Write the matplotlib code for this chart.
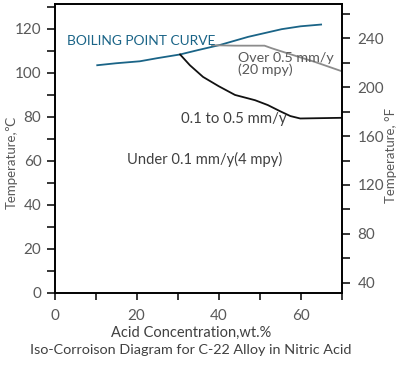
import matplotlib
matplotlib.use("Agg")
import matplotlib.pyplot as plt

plt.rcParams['font.family'] = ['Lato', 'DejaVu Sans']

# Data
boil_x = [10.4, 15, 20.8, 25, 30.6, 35, 40.3, 47.2, 55.4, 60, 65]
boil_y = [103.3, 104.2, 105.1, 106.5, 108.2, 110.2, 112.5, 116.2, 119.7, 121.0, 121.8]

over_x = [38.4, 44, 51.2, 53, 57, 63.5, 70]
over_y = [112.4, 112.2, 112.2, 111.0, 108.6, 104.8, 100.6]

mid_x = [30.6, 33, 36.2, 40, 44, 48.9, 52, 55, 57.5, 59.9, 70]
mid_y = [108.2, 103.3, 98.0, 93.8, 89.8, 87.4, 85.2, 82.4, 80.2, 79.1, 79.4]

x_ticks = [0, 20, 40, 60]
c_ticks = [0, 20, 40, 60, 80, 100, 120]
f_ticks = [40, 80, 120, 160, 200, 240]

annotations = [
    ("BOILING POINT CURVE", 3.0, 114.4, '#1a6487', 9.9),
    ("Over 0.5 mm/y\n(20 mpy)", 44.7, 103.8, '#595959', 10.3),
    ("0.1 to 0.5 mm/y", 30.8, 78.8, '#404040', 10.7),
    ("Under 0.1 mm/y(4 mpy)", 17.7, 60.6, '#404040', 10.6),
]

W, H = 399, 379
fig = plt.figure(figsize=(W/100, H/100), dpi=100)
ax = fig.add_axes([54.6/W, 1-292.5/H, (341.6-54.6)/W, (292.5-4.3)/H])

ax.plot(boil_x, boil_y, color='#1a6487', lw=1.3)
ax.plot(over_x, over_y, color='#8c8c8c', lw=1.3)
ax.plot(mid_x, mid_y, color='#111111', lw=1.3)

ylo, yhi = 0, 131
ax.set_xlim(0, 70)
ax.set_ylim(ylo, yhi)
ax.set_xticks(x_ticks)
ax.set_xticks([10, 30, 50, 70], minor=True)
ax.set_yticks(c_ticks)
ax.set_yticks([10, 30, 50, 70, 90, 110, 130], minor=True)
for sp in ax.spines.values():
    sp.set_linewidth(1.2)
    sp.set_color('black')
ax.tick_params(which='both', direction='out', length=6, width=1.1, colors='black',
               labelcolor='#595959', labelsize=11)
ax.tick_params(axis='x', which='both', length=5, pad=7)

for txt, x, y, c, fs in annotations:
    ax.text(x, y, txt, color=c, fontsize=fs, va='center', ha='left', linespacing=1.0)

ax2 = ax.twinx()
ax2.set_ylim(ylo*1.8+32, yhi*1.8+32)
ax2.set_yticks(f_ticks)
ax2.set_yticks([60, 100, 140, 180, 220, 260], minor=True)
for sp in ax2.spines.values():
    sp.set_linewidth(1.2)
ax2.tick_params(which='both', direction='out', length=6, width=1.1, colors='black',
                labelcolor='#595959', labelsize=11, pad=5.5)

ax.set_ylabel("Temperature,℃", color='#595959', fontsize=9.5, va='center')
ax.yaxis.set_label_coords((12 - 54.6) / 287, (292.5 - 162.5) / 288.2)
ax2.set_ylabel("Temperature, °F", color='#595959', fontsize=9.5, va='center')
ax2.yaxis.set_label_coords(1 + (391 - 341.6) / 287, (292.5 - 155) / 288.2)

fig.text(191/W, 1-332.5/H, "Acid Concentration,wt.%", color='#404040', fontsize=10.5,
         ha='center', va='center')
fig.text(191/W, 1-350/H, "Iso-Corroison Diagram for C-22 Alloy in Nitric Acid",
         color='#404040', fontsize=10.4, ha='center', va='center')

fig.savefig("out.png", dpi=100)
